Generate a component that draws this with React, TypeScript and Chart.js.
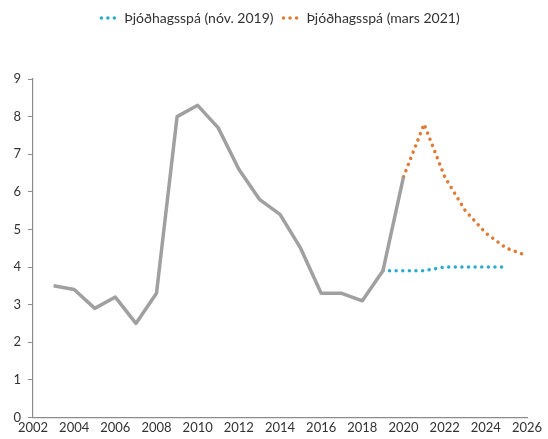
import React, { useEffect, useRef } from "react";
import { Chart, registerables } from "chart.js";

Chart.register(...registerables);

const histYears = [2003, 2004, 2005, 2006, 2007, 2008, 2009, 2010, 2011, 2012, 2013, 2014, 2015, 2016, 2017, 2018, 2019, 2020];
const histValues = [3.5, 3.4, 2.9, 3.2, 2.5, 3.3, 8.0, 8.3, 7.7, 6.6, 5.8, 5.4, 4.5, 3.3, 3.3, 3.1, 3.9, 6.4];

const nov2019Years = [2019, 2020, 2021, 2022, 2023, 2024, 2025];
const nov2019Values = [3.9, 3.9, 3.9, 4.0, 4.0, 4.0, 4.0];

const mar2021Years = [2020, 2021, 2022, 2023, 2024, 2025, 2026];
const mar2021Values = [6.4, 7.8, 6.4, 5.5, 4.9, 4.5, 4.3];

const seriesLabels = ["", "Þjóðhagsspá (nóv. 2019)", "Þjóðhagsspá (mars 2021)"];

const xMin = 2002;
const xMax = 2026;
const xStep = 2;
const yMin = 0;
const yMax = 9;
const yStep = 1;

const FONT = "Lato, 'Open Sans', sans-serif";
const DOT_DASH = [0.01, 6.6];

function toPoints(xs: number[], ys: number[]) {
  return xs.map((x, i) => ({ x, y: ys[i] }));
}

export default function App() {
  const ref = useRef<HTMLCanvasElement | null>(null);

  useEffect(() => {
    document.body.style.margin = "0";
    const canvas = ref.current;
    if (!canvas) return;

    const legendGap = {
      id: "legendGap",
      beforeInit(chart: any) {
        if (!chart.legend) return;
        const origFit = chart.legend.fit;
        chart.legend.fit = function () {
          origFit.bind(this)();
          this.height += 44;
        };
      },
      afterLayout(chart: any) {
        if (!chart.legend) return;
        chart.legend.left += 13;
        chart.legend.right += 13;
      },
    };

    const defaultGen = (Chart as any).defaults.plugins.legend.labels.generateLabels;

    const chart = new Chart(canvas, {
      type: "line",
      data: {
        datasets: [
          {
            label: seriesLabels[0],
            data: toPoints(histYears, histValues),
            borderColor: "#A0A0A0",
            backgroundColor: "#A0A0A0",
            borderWidth: 3.5,
            pointRadius: 0,
            tension: 0,
            borderJoinStyle: "round",
          },
          {
            label: seriesLabels[1],
            data: toPoints(nov2019Years, nov2019Values),
            borderColor: "#2AAACD",
            backgroundColor: "#2AAACD",
            borderWidth: 3.5,
            borderDash: DOT_DASH,
            borderCapStyle: "round",
            pointRadius: 0,
            tension: 0,
          },
          {
            label: seriesLabels[2],
            data: toPoints(mar2021Years, mar2021Values),
            borderColor: "#E07A35",
            backgroundColor: "#E07A35",
            borderWidth: 3.5,
            borderDash: DOT_DASH,
            borderCapStyle: "round",
            pointRadius: 0,
            tension: 0,
          },
        ],
      },
      options: {
        animation: false,
        responsive: false,
        maintainAspectRatio: false,
        layout: { padding: { top: 1, left: 8, right: 21, bottom: 0 } },
        plugins: {
          tooltip: { enabled: false },
          legend: {
            display: true,
            position: "top",
            labels: {
              filter: (item: any) => item.text !== "",
              generateLabels: (c: any) =>
                defaultGen(c).map((it: any) => ({
                  ...it,
                  lineDash: [0.01, 6.5],
                  lineCap: "round",
                  lineWidth: 3.5,
                })),
              usePointStyle: true,
              pointStyle: "line",
              pointStyleWidth: 16,
              boxHeight: 4,
              padding: 10,
              color: "#333333",
              font: { family: FONT, size: 14 },
            },
          },
        },
        scales: {
          x: {
            type: "linear",
            min: xMin,
            max: xMax,
            ticks: {
              stepSize: xStep,
              autoSkip: false,
              maxRotation: 0,
              color: "#333333",
              font: { family: FONT, size: 13 },
              padding: 3,
              callback: (v: any) => String(v),
            },
            grid: { display: true, drawOnChartArea: false, drawTicks: false },
            border: { display: true, color: "#8C8C8C", width: 1.2 },
          },
          y: {
            min: yMin,
            max: yMax,
            ticks: {
              stepSize: yStep,
              color: "#333333",
              font: { family: FONT, size: 13 },
              padding: 7,
            },
            grid: {
              display: true,
              drawOnChartArea: false,
              drawTicks: true,
              tickLength: 5,
              color: "#8C8C8C",
            },
            border: { display: true, color: "#8C8C8C", width: 1.2 },
            afterFit: (scale: any) => {
              scale.width = 25;
            },
          },
        },
      },
      plugins: [legendGap],
    } as any);

    return () => chart.destroy();
  }, []);

  return <canvas ref={ref} width={548} height={439} style={{ display: "block" }} />;
}
